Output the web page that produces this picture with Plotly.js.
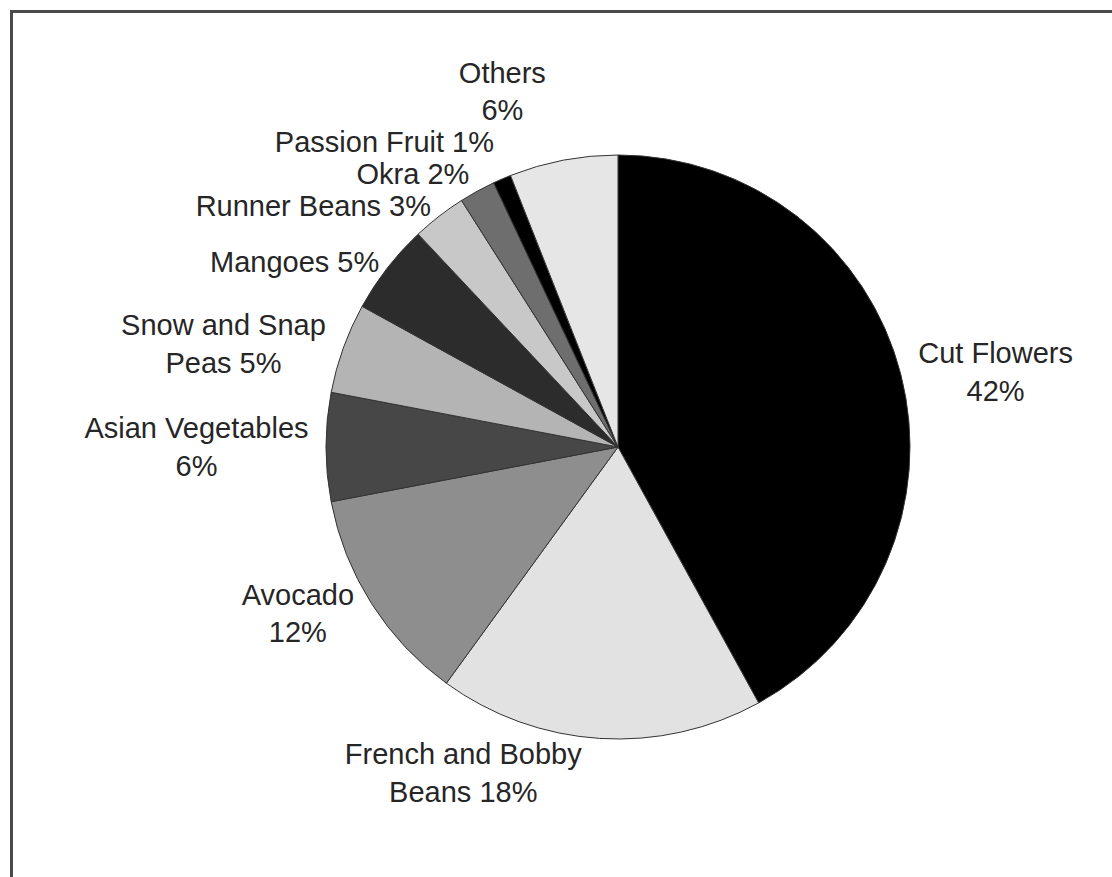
<!DOCTYPE html>
<html>
<head>
<meta charset="utf-8">
<script src="https://cdn.plot.ly/plotly-3.0.1.min.js"></script>
<style>
html, body { margin: 0; padding: 0; background: #fff; overflow: hidden; }
#chart { width: 1112px; height: 877px; position: relative; }
#frame { position: absolute; left: 10px; top: 10px; width: 1200px; height: 1000px;
  border-left: 3px solid #4a4a4a; border-top: 3px solid #4a4a4a; pointer-events: none; }
#chart path.textline { display: none; }
</style>
</head>
<body>
<div id="chart"></div>
<div id="frame"></div>
<script>
const categories = ["Cut Flowers", "French and Bobby Beans", "Avocado", "Asian Vegetables",
  "Snow and Snap Peas", "Mangoes", "Runner Beans", "Okra", "Passion Fruit", "Others"];
const shares = [42, 18, 12, 6, 5, 5, 3, 2, 1, 6];
const labelTexts = ["Cut Flowers<br>42%", "French and Bobby<br>Beans 18%", "Avocado<br>12%",
  "Asian Vegetables<br>6%", "Snow and Snap<br>Peas 5%", "Mangoes 5%", "Runner Beans 3%",
  "Okra 2%", "Passion Fruit 1%", "Others<br>6%"];
const sliceColors = ["#000000", "#e2e2e2", "#8e8e8e", "#474747", "#b4b4b4", "#2c2c2c",
  "#c8c8c8", "#6e6e6e", "#000000", "#e6e6e6"];

const W = 1112, H = 877;
const cx = 618, cy = 447, r = 292;

Plotly.newPlot('chart', [{
  type: 'pie',
  labels: categories,
  values: shares,
  text: labelTexts,
  textinfo: 'text',
  textposition: 'outside',
  sort: false,
  direction: 'clockwise',
  rotation: 0,
  marker: { colors: sliceColors, line: { color: '#333333', width: 1 } },
  textfont: { family: 'Liberation Sans, Arial, sans-serif', size: 29, color: '#262626' },
  hoverinfo: 'none',
  automargin: false,
  domain: { x: [(cx - r) / W, (cx + r) / W], y: [1 - (cy + r) / H, 1 - (cy - r) / H] }
}], {
  width: W, height: H,
  margin: { l: 0, r: 0, t: 0, b: 0 },
  showlegend: false,
  paper_bgcolor: '#ffffff',
  font: { family: 'Liberation Sans, Arial, sans-serif' }
}, { staticPlot: true });
</script>
</body>
</html>
